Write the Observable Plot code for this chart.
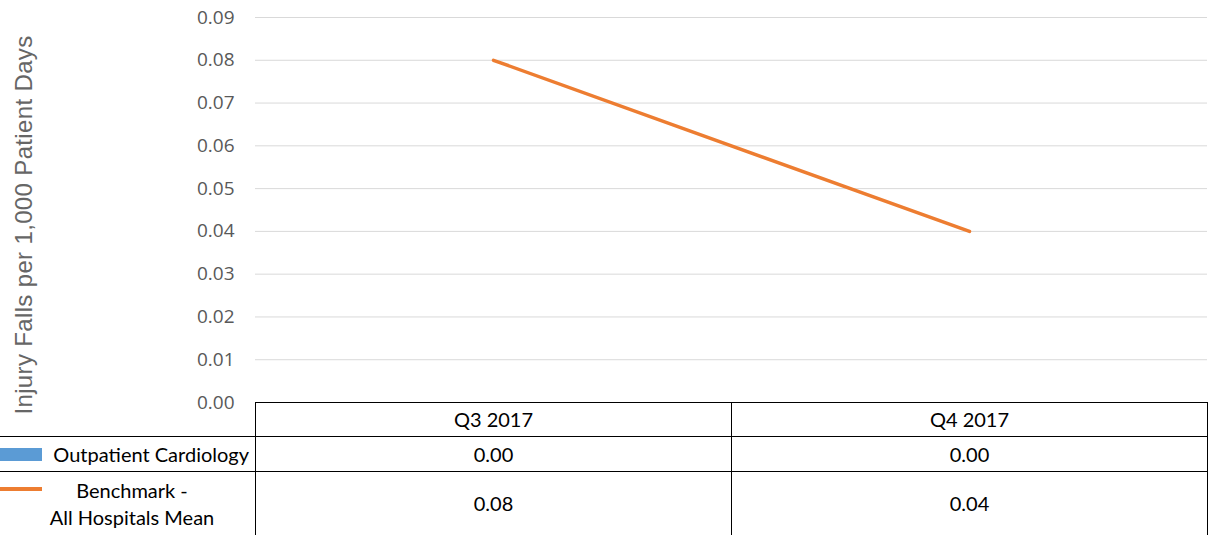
<!DOCTYPE html>
<html>
<head>
<meta charset="utf-8">
<script src="https://cdn.jsdelivr.net/npm/d3@7"></script>
<script src="https://cdn.jsdelivr.net/npm/@observablehq/plot@0.6"></script>
<style>
  html, body { margin: 0; padding: 0; background: #fff; }
  #wrap { position: relative; width: 1216px; height: 535px; overflow: hidden; }
  #chart svg { display: block; }
  #table { position: absolute; left: 0; top: 402px; width: 1216px; height: 133px;
           font-family: Lato, "Liberation Sans", sans-serif; font-size: 20px; color: #000; }
  .cell { position: absolute; box-sizing: border-box; display: flex; align-items: center; justify-content: center; text-align: center; line-height: 27px; }
</style>
</head>
<body>
<div id="wrap">
  <div id="chart"></div>
  <div id="table"></div>
</div>
<script>
// ---- data ----
const quarters = ["Q3 2017", "Q4 2017"];
const seriesNames = ["Outpatient Cardiology", "Benchmark - All Hospitals Mean"];
const cardiologyValues = [0.00, 0.00];
const benchmarkValues = [0.08, 0.04];
const yTicks = [0, 0.01, 0.02, 0.03, 0.04, 0.05, 0.06, 0.07, 0.08, 0.09];
const yTitle = "Injury Falls per 1,000 Patient Days";
const colors = { cardiology: "#5B9BD5", benchmark: "#ED7D31" };

const cardio = quarters.map((q, i) => ({ q, v: cardiologyValues[i] }));
const bench = quarters.map((q, i) => ({ q, v: benchmarkValues[i] }));

const plot = Plot.plot({
  width: 1216,
  height: 420,
  marginLeft: 255,
  marginRight: 9,
  marginTop: 17,
  marginBottom: 18,
  style: { fontFamily: "'Open Sans', 'Liberation Sans', Arial, sans-serif", background: "transparent" },
  x: { domain: quarters, padding: 0, axis: null },
  y: { domain: [0, 0.09] },
  marks: [
    Plot.gridY(yTicks, { stroke: "#d9d9d9", strokeOpacity: 1, strokeWidth: 1 }),
    Plot.axisY(yTicks, {
      tickSize: 0, tickPadding: 21, tickFormat: d3.format(".2f"),
      fontSize: 19, color: "#595959",
      label: yTitle, labelAnchor: "center", labelArrow: "none", labelOffset: 248
    }),
    Plot.barY(cardio, { x: "q", y: "v", fill: colors.cardiology, inset: 120 }),
    Plot.lineY(bench, { x: "q", y: "v", stroke: colors.benchmark, strokeWidth: 3.5 })
  ]
});
document.getElementById("chart").appendChild(plot);

// style / place the y-axis title
d3.select(plot).selectAll("g[aria-label='y-axis label']").attr("transform", null);
d3.select(plot).selectAll("g[aria-label='y-axis label'] text")
  .attr("x", null).attr("y", null)
  .attr("font-size", 24)
  .attr("font-family", "'Liberation Sans', Arial, sans-serif")
  .attr("fill", "#666")
  .attr("letter-spacing", "0.35px")
  .attr("text-anchor", "middle")
  .attr("dy", "0.32em")
  .attr("transform", "translate(24,225) rotate(-90)");

// ---- data table below the plot ----
const table = d3.select("#table");
const col0 = 255, colW = 476;
const rowTops = [0, 34, 69];
const rowHs = [34, 35, 64];
const line = "1px solid #000";

// header row cells
quarters.forEach((q, i) => {
  table.append("div").attr("class", "cell")
    .style("left", (col0 + i * colW) + "px").style("top", "0px")
    .style("width", colW + 1 + "px").style("height", rowHs[0] + 1 + "px")
    .style("border", line)
    .text(q);
});
// body rows
const rows = [
  { name: seriesNames[0], vals: cardiologyValues, color: colors.cardiology, kind: "bar" },
  { name: seriesNames[1], vals: benchmarkValues, color: colors.benchmark, kind: "line" }
];
rows.forEach((r, ri) => {
  const top = rowTops[ri + 1], h = rowHs[ri + 1];
  const lab = table.append("div").attr("class", "cell")
    .style("left", "0px").style("top", top + "px")
    .style("width", col0 + "px").style("height", h + 1 + "px")
    .style("border-top", line).style("border-bottom", ri === 1 ? "1px solid #ddd" : line);
  if (r.kind === "bar") {
    lab.style("justify-content", "flex-end").style("padding-right", "6px");
    lab.append("div").style("position", "absolute").style("left", "0px").style("top", "11px")
      .style("width", "42px").style("height", "13px").style("background", r.color);
    lab.append("span").text(r.name);
  } else {
    lab.append("div").style("position", "absolute").style("left", "0px").style("top", "15px")
      .style("width", "42px").style("height", "4px").style("background", r.color);
    const parts = r.name.split(" - ");
    lab.append("span").style("position", "absolute").style("left", "24px").style("width", "216px")
      .html(parts[0] + " -<br>" + parts[1]);
  }
  r.vals.forEach((v, i) => {
    table.append("div").attr("class", "cell")
      .style("left", (col0 + i * colW) + "px").style("top", top + "px")
      .style("width", colW + 1 + "px").style("height", h + 1 + "px")
      .style("border-left", line).style("border-right", line)
      .style("border-top", line).style("border-bottom", ri === 1 ? "1px solid #ddd" : line)
      .text(d3.format(".2f")(v));
  });
});
</script>
</body>
</html>
